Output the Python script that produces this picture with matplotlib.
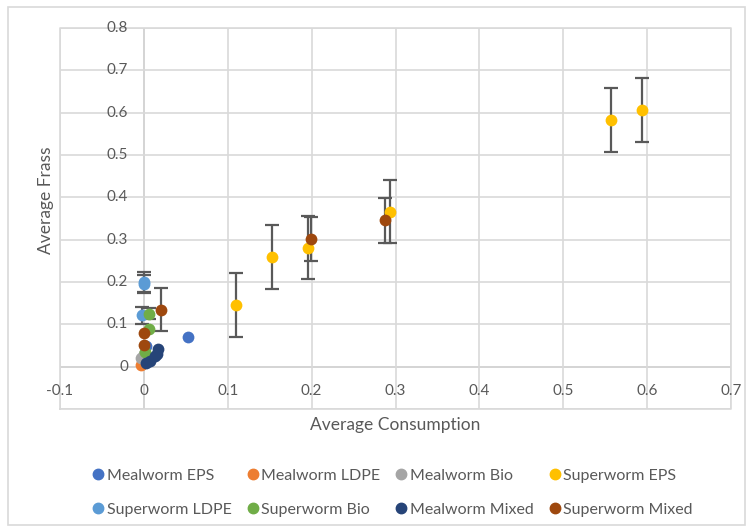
import matplotlib
matplotlib.use("Agg")
import matplotlib.pyplot as plt
from matplotlib.patches import Rectangle
from matplotlib.lines import Line2D
from matplotlib.transforms import offset_copy

plt.rcParams["font.family"] = ["Lato", "DejaVu Sans"]

# ── Data (x = average consumption, y = average frass, e = error) ──
mw_eps_x = [0.053, 0.002]
mw_eps_y = [0.069, 0.048]
mw_ldpe_x = [-0.004, 0.0]
mw_ldpe_y = [0.003, 0.008]
mw_bio_x = [-0.003, 0.0]
mw_bio_y = [0.020, 0.030]
sw_eps_x = [0.110, 0.153, 0.196, 0.293, 0.557, 0.594]
sw_eps_y = [0.146, 0.259, 0.281, 0.366, 0.583, 0.606]
sw_eps_e = [0.075, 0.076, 0.075, 0.075, 0.075, 0.075]
sw_ldpe_x = [0.0, 0.0, -0.002]
sw_ldpe_y = [0.200, 0.195, 0.121]
sw_ldpe_e = [0.023, 0.021, 0.020]
sw_bio_x = [0.006, 0.006, 0.001]
sw_bio_y = [0.125, 0.089, 0.034]
sw_bio_e = [0.013, 0.0, 0.0]
mw_mix_x = [0.017, 0.016, 0.013, 0.007, 0.003]
mw_mix_y = [0.042, 0.030, 0.026, 0.014, 0.008]
sw_mix_x = [0.020, 0.199, 0.287, 0.0, 0.0]
sw_mix_y = [0.135, 0.302, 0.346, 0.080, 0.050]
sw_mix_e = [0.051, 0.052, 0.053, 0.0, 0.0]

labels = ["Mealworm EPS", "Mealworm LDPE", "Mealworm Bio", "Superworm EPS",
          "Superworm LDPE", "Superworm Bio", "Mealworm Mixed", "Superworm Mixed"]
colors = ["#4472C4", "#ED7D31", "#A5A5A5", "#FFC000",
          "#5B9BD5", "#70AD47", "#264478", "#9E480E"]

series = [
    (mw_eps_x, mw_eps_y, None),
    (mw_ldpe_x, mw_ldpe_y, None),
    (mw_bio_x, mw_bio_y, None),
    (sw_eps_x, sw_eps_y, sw_eps_e),
    (sw_ldpe_x, sw_ldpe_y, sw_ldpe_e),
    (sw_bio_x, sw_bio_y, sw_bio_e),
    (sw_mix_x, sw_mix_y, sw_mix_e),
    (mw_mix_x, mw_mix_y, None),
]
series_colors = colors[:6] + [colors[7], colors[6]]

W, H = 753, 532
fig = plt.figure(figsize=(W / 100, H / 100), dpi=100)
fig.patch.set_facecolor("white")
ax = fig.add_axes([60 / W, (H - 409) / H, (731 - 60) / W, (409 - 28) / H])

# chart border
fig.patches.append(Rectangle((8 / W, 7 / H), (745 - 8) / W, (525 - 7) / H,
                             transform=fig.transFigure, fill=False,
                             edgecolor="#d9d9d9", lw=1.2))

ax.set_xlim(-0.1, 0.7)
ax.set_ylim(-0.1, 0.8)
xt = [-0.1, 0, 0.1, 0.2, 0.3, 0.4, 0.5, 0.6, 0.7]
yt = [-0.1, 0, 0.1, 0.2, 0.3, 0.4, 0.5, 0.6, 0.7, 0.8]
ax.set_xticks(xt)
ax.set_yticks(yt)
ax.tick_params(length=0, labelbottom=False, labelleft=False)
ax.grid(True, color="#d9d9d9", lw=1.2, zorder=0)
for s in ax.spines.values():
    s.set_visible(False)
ax.axhline(0, color="#bfbfbf", lw=1.3, zorder=1)
ax.axvline(0, color="#bfbfbf", lw=1.3, zorder=1)
ax.plot([-0.1, 0.7, 0.7, -0.1, -0.1], [-0.1, -0.1, 0.8, 0.8, -0.1],
        color="#d9d9d9", lw=1.2, clip_on=False, zorder=0)

# tick labels placed along the crossing axes (y label at -0.1 is hidden)
tx = offset_copy(ax.transData, fig=fig, x=0, y=-24, units="dots")
for v in xt:
    ax.text(v, 0, f"{v:g}", transform=tx, ha="center", va="center",
            fontsize=11, color="#595959")
ty = offset_copy(ax.transData, fig=fig, x=-16, y=0, units="dots")
for v in yt[1:]:
    ax.text(0, v, f"{v:g}", transform=ty, ha="right", va="center",
            fontsize=11, color="#595959")

for (x, y, e), c in zip(series, series_colors):
    if e is not None:
        ex = [a for a, b in zip(x, e) if b > 0]
        ey = [a for a, b in zip(y, e) if b > 0]
        ee = [b for b in e if b > 0]
        ax.errorbar(ex, ey, yerr=ee, fmt="none", ecolor="#595959",
                    elinewidth=1.6, capsize=5, capthick=1.6, zorder=2)
    ax.scatter(x, y, s=72, color=c, zorder=3, linewidths=0)

fig.text(395 / W, 1 - 425 / H, "Average Consumption", ha="center", va="center",
         fontsize=12.5, color="#595959")
fig.text(46 / W, 1 - 200 / H, "Average Frass", ha="center", va="center",
         rotation=90, fontsize=12.5, color="#595959")

handles = [Line2D([], [], marker="o", ls="none", color=c, markersize=7.5)
           for c in colors]
order = [0, 4, 1, 5, 2, 6, 3, 7]
fig.legend([handles[i] for i in order], [labels[i] for i in order],
           ncol=4, loc="center left", bbox_to_anchor=(79 / W, 1 - 492.5 / H),
           frameon=False, fontsize=11.5, handletextpad=0.05, columnspacing=0.8,
           labelspacing=1.25, handlelength=1.0, borderpad=0.2,
           labelcolor="#595959")

fig.savefig("out.png", dpi=100, facecolor="white")
